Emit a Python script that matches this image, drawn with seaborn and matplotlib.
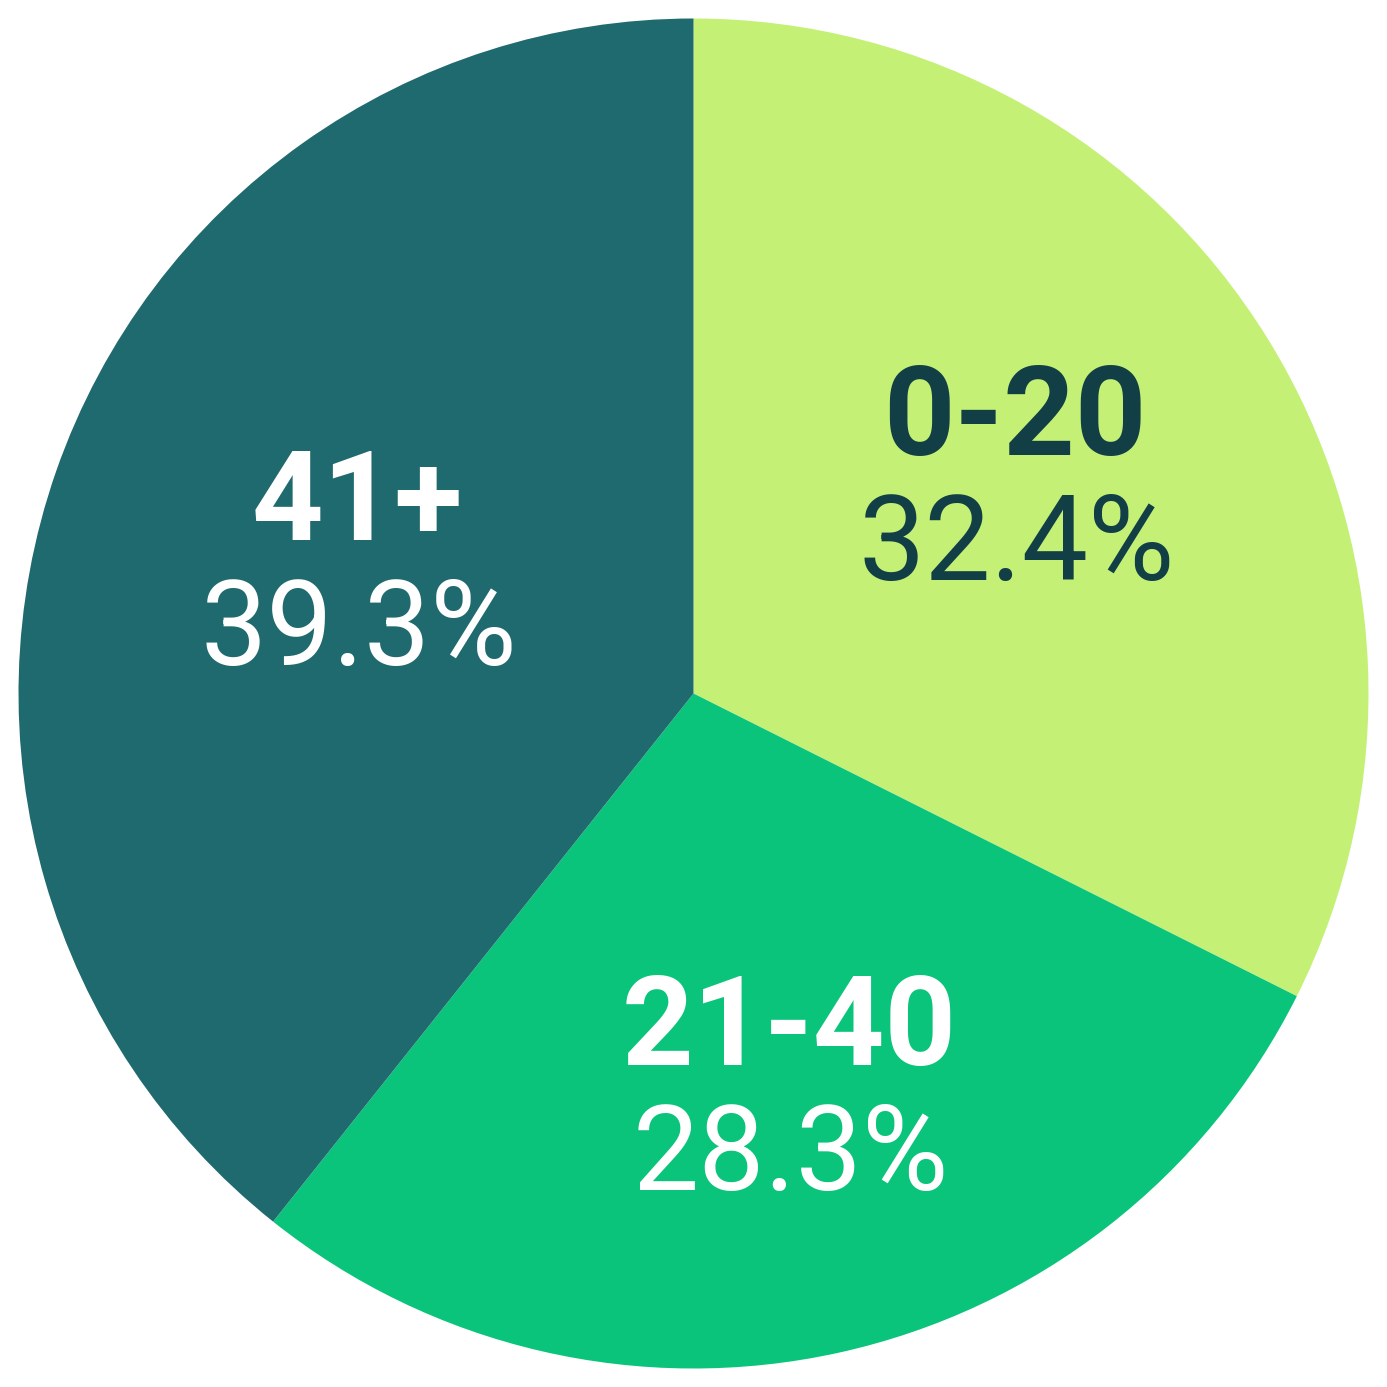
import matplotlib.pyplot as plt
import seaborn as sns

sns.set_style("white")
plt.rcParams["font.family"] = ["Roboto", "DejaVu Sans"]

groups = ["0-20", "21-40", "41+"]
shares = [32.4, 28.3, 39.3]
colors = ["#C4F076", "#09C47A", "#1F6A6E"]
text_colors = ["#123F45", "white", "white"]

# label anchor points (pixel positions in a 1387px canvas, baseline of group name)
label_px = [(1015, 455), (789, 1065), (357, 540)]

W = 1387
R = 675
fig = plt.figure(figsize=(W / 100, W / 100), dpi=100)
ax = fig.add_axes([0, 0, 1, 1])
ax.pie(shares, colors=colors, startangle=90, counterclock=False, radius=1,
       wedgeprops={"linewidth": 0})
lim = W / 2 / R
ax.set_xlim(-lim, lim)
ax.set_ylim(-lim, lim)
ax.set_aspect("equal")
ax.axis("off")

for g, s, tc, (px, py) in zip(groups, shares, text_colors, label_px):
    x = (px - W / 2) / R
    y = (W / 2 - py) / R
    ax.text(x, y, g, ha="center", va="baseline", fontsize=90,
            fontweight="bold", color=tc)
    ax.text(x + 2 / R, y - 125 / R, f"{s:.1f}%", ha="center", va="baseline",
            fontsize=85, fontweight="normal", color=tc)

fig.savefig("out.png", dpi=100, facecolor="white")
